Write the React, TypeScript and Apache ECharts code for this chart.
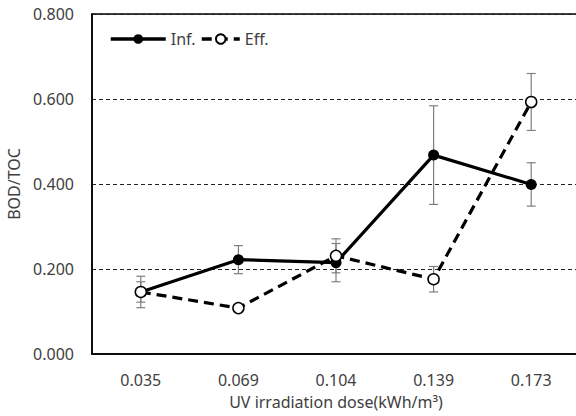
import React, { useEffect, useRef } from "react";
import * as echarts from "echarts";

const categories = ["0.035", "0.069", "0.104", "0.139", "0.173"];
const infValues = [0.146, 0.222, 0.215, 0.468, 0.399];
const infErrors = [0.037, 0.033, 0.045, 0.116, 0.051];
const effValues = [0.146, 0.108, 0.231, 0.176, 0.593];
const effErrors = [0.024, 0.0, 0.040, 0.030, 0.067];
const yTicks = { min: 0, max: 0.8, interval: 0.2 };

const FONT = "Noto Sans";
const TEXT = "#404040";

function errorSeries(name: string, values: number[], errors: number[]) {
  return {
    type: "custom",
    name,
    z: 1,
    silent: true,
    data: values.map((v, i) => [i, v, errors[i]]),
    encode: { x: 0, y: 1 },
    renderItem: (params: any, api: any) => {
      const x = api.value(0);
      const v = api.value(1);
      const e = api.value(2);
      if (!e) return { type: "group", children: [] };
      const top = api.coord([x, v + e]);
      const bot = api.coord([x, v - e]);
      const w = 4.5;
      const style = { stroke: "#7f7f7f", lineWidth: 1.2 };
      return {
        type: "group",
        children: [
          { type: "line", shape: { x1: top[0], y1: top[1], x2: bot[0], y2: bot[1] }, style },
          { type: "line", shape: { x1: top[0] - w, y1: top[1], x2: top[0] + w, y2: top[1] }, style },
          { type: "line", shape: { x1: bot[0] - w, y1: bot[1], x2: bot[0] + w, y2: bot[1] }, style },
        ],
      };
    },
  };
}

export default function App() {
  const ref = useRef<HTMLDivElement>(null);
  useEffect(() => {
    document.body.style.margin = "0";
    const chart = echarts.init(ref.current!, null, { renderer: "svg" });
    chart.setOption({
      animation: false,
      backgroundColor: "#fff",
      textStyle: { fontFamily: FONT },
      grid: {
        left: 92,
        top: 14,
        bottom: 62,
        right: -4,
        outerBoundsMode: "none",
        containLabel: false,
        show: true,
        borderColor: "#000",
        borderWidth: 1.5,
      },
      legend: [
        {
          data: ["Inf."],
          left: 104,
          top: 26,
          itemWidth: 55,
          itemHeight: 12,
          lineStyle: { width: 3.5 },
          textStyle: { fontSize: 16, color: TEXT, fontFamily: FONT },
        },
        {
          data: ["Eff."],
          left: 195,
          top: 26,
          itemWidth: 38,
          itemHeight: 12,
          lineStyle: { width: 3.5 },
          textStyle: { fontSize: 16, color: TEXT, fontFamily: FONT },
        },
      ],
      xAxis: {
        type: "category",
        data: categories,
        boundaryGap: true,
        name: "UV irradiation dose(kWh/m³)",
        nameLocation: "middle",
        nameGap: 40,
        nameTextStyle: { fontSize: 16, color: TEXT, fontFamily: FONT },
        axisLine: { show: true, lineStyle: { color: "#000", width: 1.5 } },
        axisTick: { show: false },
        axisLabel: { fontSize: 16, color: TEXT, margin: 18, fontFamily: FONT },
      },
      yAxis: {
        type: "value",
        min: yTicks.min,
        max: yTicks.max,
        interval: yTicks.interval,
        name: "BOD/TOC",
        nameLocation: "middle",
        nameGap: 66,
        nameTextStyle: { fontSize: 16, color: TEXT, fontFamily: FONT },
        axisLine: { show: true, lineStyle: { color: "#000", width: 1.5 } },
        axisTick: { show: false },
        axisLabel: {
          fontSize: 16,
          color: TEXT,
          margin: 18,
          fontFamily: FONT,
          formatter: (v: number) => v.toFixed(3),
        },
        splitLine: { show: true, lineStyle: { color: "#222", width: 1, type: [4, 3] } },
      },
      series: [
        errorSeries("infErr", infValues, infErrors),
        errorSeries("effErr", effValues, effErrors),
        {
          type: "line",
          name: "Inf.",
          z: 3,
          data: infValues,
          symbol: "circle",
          symbolSize: 11,
          itemStyle: { color: "#000" },
          lineStyle: { color: "#000", width: 3.2 },
        },
        {
          type: "line",
          name: "Eff.",
          z: 4,
          data: effValues,
          symbol: "circle",
          symbolSize: 11,
          itemStyle: { color: "#fff", borderColor: "#000", borderWidth: 1.5 },
          lineStyle: { color: "#000", width: 3.2, type: [10, 6] },
        },
      ],
    });
    return () => chart.dispose();
  }, []);
  return <div ref={ref} style={{ width: 576, height: 416 }} />;
}
